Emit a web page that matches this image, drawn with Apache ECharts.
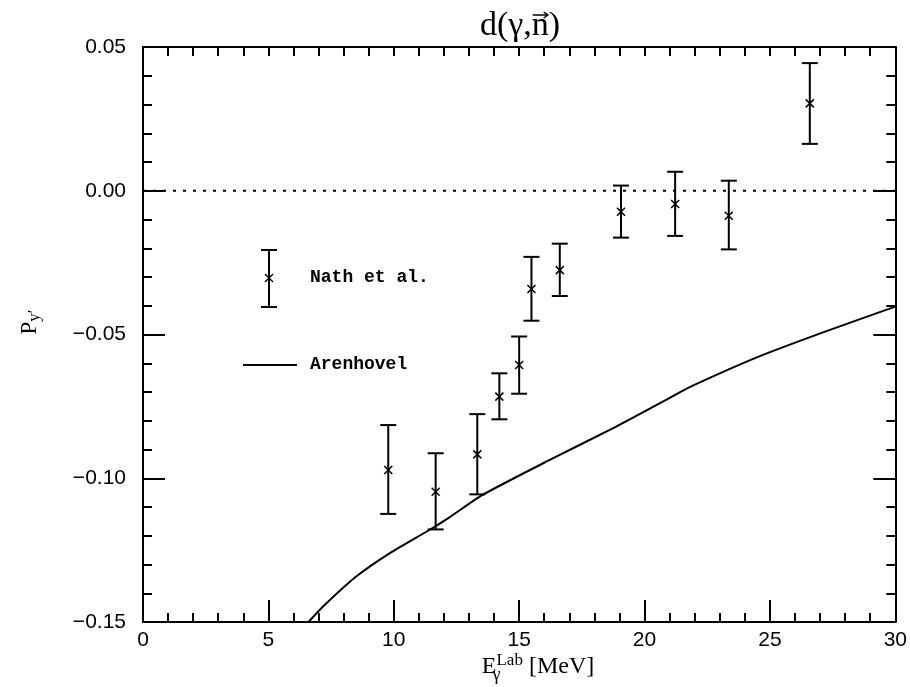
<!DOCTYPE html>
<html>
<head>
<meta charset="utf-8">
<script src="https://cdn.jsdelivr.net/npm/echarts@6/dist/echarts.min.js"></script>
<style>html,body{margin:0;padding:0;background:#fff}#c{width:910px;height:687px}</style>
</head>
<body>
<div id="c"></div>
<script>
// ---- data ----
const energies = [9.78, 11.67, 13.33, 14.21, 15.0, 15.49, 16.62, 19.06, 21.22, 23.36, 26.59];
const polarization = [-0.0971, -0.1047, -0.0917, -0.0716, -0.0606, -0.0342, -0.0276, -0.0073, -0.0046, -0.0087, 0.0304];
const errTop = [-0.0815, -0.0913, -0.0777, -0.0635, -0.0507, -0.0230, -0.0184, 0.0018, 0.0066, 0.0035, 0.0444];
const errBottom = [-0.1124, -0.1178, -0.1056, -0.0795, -0.0706, -0.0452, -0.0366, -0.0163, -0.0157, -0.0204, 0.0163];

const theoryE = [6.6, 7.17, 8.5, 9.83, 11.42, 12.22, 13.54, 16.2, 18.85, 20.97, 21.9, 24.55, 27.2, 30.0];
const theoryP = [-0.150, -0.1447, -0.1342, -0.1261, -0.1180, -0.1136, -0.1058, -0.0937, -0.0821, -0.0722, -0.0679, -0.0577, -0.0490, -0.0403];

const zeroLineE = [0, 30];
const zeroLineP = [0, 0];

const xTicks = [0, 5, 10, 15, 20, 25, 30];
const yTicks = [-0.15, -0.10, -0.05, 0.00, 0.05];

const chart = echarts.init(document.getElementById('c'));

const errData = energies.map((e, i) => [e, polarization[i], errBottom[i], errTop[i]]);
const theoryData = theoryE.map((e, i) => [e, theoryP[i]]);
const zeroData = zeroLineE.map((e, i) => [e, zeroLineP[i]]);

const tickFont = {fontFamily: 'Liberation Sans', fontSize: 21, color: '#000'};
const axLine = {show: true, onZero: false, lineStyle: {color: '#000', width: 2}};

function fmtY(v) {
  const s = v.toFixed(2);
  return s.replace('-', '\u2212');
}

function renderErr(params, api) {
  const x = api.value(0), y = api.value(1), lo = api.value(2), hi = api.value(3);
  const c = api.coord([x, y]);
  const t = api.coord([x, hi]);
  const b = api.coord([x, lo]);
  const w = 8, s = 4;
  const st = {stroke: '#000', lineWidth: 2};
  const st2 = {stroke: '#000', lineWidth: 1.5};
  return {
    type: 'group',
    children: [
      {type: 'line', shape: {x1: t[0], y1: t[1], x2: b[0], y2: b[1]}, style: st},
      {type: 'line', shape: {x1: t[0] - w, y1: t[1], x2: t[0] + w, y2: t[1]}, style: st},
      {type: 'line', shape: {x1: b[0] - w, y1: b[1], x2: b[0] + w, y2: b[1]}, style: st},
      {type: 'line', shape: {x1: c[0] - s, y1: c[1] - s, x2: c[0] + s, y2: c[1] + s}, style: st2},
      {type: 'line', shape: {x1: c[0] - s, y1: c[1] + s, x2: c[0] + s, y2: c[1] - s}, style: st2}
    ]
  };
}

const legendFont = 'bold 18px "Liberation Mono"';

// title pieces measured so the vector arrow sits over the "n"
const titleFont = '34px "Liberation Serif"';
const cv = document.createElement('canvas').getContext('2d');
cv.font = titleFont;
const titleText = 'd(\u03B3,n)';
const wAll = cv.measureText(titleText).width;
const wPre = cv.measureText('d(\u03B3,').width;
const wN = cv.measureText('n').width;
const titleLeft = 520 - wAll / 2;
const nx1 = titleLeft + wPre + 1, nx2 = titleLeft + wPre + wN - 1;
const arrowY = 15;

chart.setOption({
  animation: false,
  backgroundColor: '#fff',
  grid: {left: 143, right: 13, top: 47, bottom: 65, show: false},
  xAxis: [
    {
      type: 'value', min: 0, max: 30, interval: 5, position: 'bottom',
      axisLine: axLine,
      axisTick: {show: true, inside: true, length: 22, lineStyle: {color: '#000', width: 2}},
      minorTick: {show: true, splitNumber: 5, length: 9, lineStyle: {color: '#000', width: 2}},
      axisLabel: Object.assign({margin: 8, formatter: v => xTicks.includes(v) ? String(v) : ''}, tickFont),
      splitLine: {show: false}
    },
    {
      type: 'value', min: 0, max: 30, interval: 5, position: 'top',
      axisLine: axLine,
      axisTick: {show: true, inside: true, length: 9, lineStyle: {color: '#000', width: 2}},
      minorTick: {show: true, splitNumber: 5, length: 9, lineStyle: {color: '#000', width: 2}},
      axisLabel: {show: false},
      splitLine: {show: false}
    }
  ],
  yAxis: [
    {
      type: 'value', min: -0.15, max: 0.05, interval: 0.05, position: 'left',
      axisLine: axLine,
      axisTick: {show: true, inside: true, length: 22, lineStyle: {color: '#000', width: 2}},
      minorTick: {show: true, splitNumber: 5, length: 9, lineStyle: {color: '#000', width: 2}},
      axisLabel: Object.assign({margin: 17, formatter: v => fmtY(v)}, tickFont),
      splitLine: {show: false}
    },
    {
      type: 'value', min: -0.15, max: 0.05, interval: 0.05, position: 'right',
      axisLine: axLine,
      axisTick: {show: true, inside: true, length: 22, lineStyle: {color: '#000', width: 2}},
      minorTick: {show: true, splitNumber: 5, length: 9, lineStyle: {color: '#000', width: 2}},
      axisLabel: {show: false},
      splitLine: {show: false}
    }
  ],
  series: [
    {
      type: 'line', data: zeroData, xAxisIndex: 0, yAxisIndex: 0,
      symbol: 'none', lineStyle: {color: '#000', width: 2, type: [3, 7]}, silent: true
    },
    {
      type: 'line', data: theoryData, xAxisIndex: 0, yAxisIndex: 0,
      symbol: 'none', smooth: 0.2, clip: true,
      lineStyle: {color: '#000', width: 2}
    },
    {
      type: 'custom', data: errData, xAxisIndex: 0, yAxisIndex: 0,
      renderItem: renderErr, clip: false
    }
  ],
  graphic: [
    // title
    {type: 'text', x: titleLeft, y: 9, style: {text: titleText, font: titleFont, fill: '#000'}},
    {type: 'line', shape: {x1: nx1, y1: arrowY, x2: nx2, y2: arrowY}, style: {stroke: '#000', lineWidth: 1.5}},
    {type: 'polyline', shape: {points: [[nx2 - 4, arrowY - 3], [nx2, arrowY], [nx2 - 4, arrowY + 3]]}, style: {stroke: '#000', lineWidth: 1.5, fill: null}},
    // legend: error bar sample
    {type: 'line', shape: {x1: 269, y1: 250, x2: 269, y2: 307}, style: {stroke: '#000', lineWidth: 2}},
    {type: 'line', shape: {x1: 261, y1: 250, x2: 277, y2: 250}, style: {stroke: '#000', lineWidth: 2}},
    {type: 'line', shape: {x1: 261, y1: 307, x2: 277, y2: 307}, style: {stroke: '#000', lineWidth: 2}},
    {type: 'line', shape: {x1: 265, y1: 274, x2: 273, y2: 282}, style: {stroke: '#000', lineWidth: 1.5}},
    {type: 'line', shape: {x1: 265, y1: 282, x2: 273, y2: 274}, style: {stroke: '#000', lineWidth: 1.5}},
    {type: 'text', left: 310, top: 268, style: {text: 'Nath et al.', font: legendFont, fill: '#000'}},
    // legend: theory line
    {type: 'line', shape: {x1: 243, y1: 365, x2: 297, y2: 365}, style: {stroke: '#000', lineWidth: 2}},
    {type: 'text', left: 310, top: 355, style: {text: 'Arenhovel', font: legendFont, fill: '#000'}},
    // y axis title
    {
      type: 'text', x: 30, y: 322, rotation: Math.PI / 2,
      style: {
        text: '{p|P}{s|y\u2032}',
        textAlign: 'center', textVerticalAlign: 'middle',
        rich: {
          p: {fontFamily: 'Liberation Serif', fontSize: 23, fill: '#000'},
          s: {fontFamily: 'Liberation Serif', fontSize: 17, fill: '#000', padding: [10, 0, 0, 0]}
        }
      }
    },
    // x axis title
    {
      type: 'text', x: 538, y: 667,
      style: {
        text: '{e|E}{sub|\u03B3}{sup|Lab}{e| [MeV]}',
        textAlign: 'center', textVerticalAlign: 'middle',
        rich: {
          e: {fontFamily: 'Liberation Serif', fontSize: 24, fill: '#000'},
          sub: {fontFamily: 'Liberation Serif', fontSize: 18, fill: '#000', padding: [16, 0, 0, 0], width: 0},
          sup: {fontFamily: 'Liberation Serif', fontSize: 17, fill: '#000', padding: [0, 0, 12, 0]}
        }
      }
    }
  ]
});
</script>
</body>
</html>
